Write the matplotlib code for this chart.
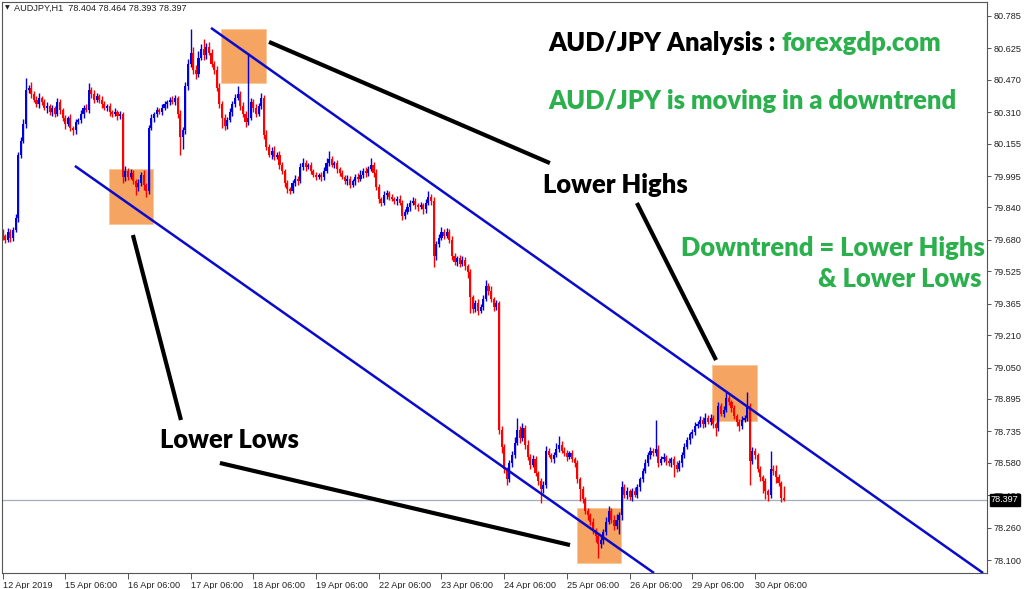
import matplotlib
matplotlib.use("Agg")
import matplotlib.pyplot as plt
from matplotlib.patches import Rectangle
import numpy as np

# ---------------- data ----------------
first_open = 79.72
closes = [
    79.70, 79.68, 79.72, 79.69, 79.73, 79.79, 80.10, 80.17, 80.25, 80.42,
    80.43, 80.40, 80.37, 80.35, 80.38, 80.36, 80.33, 80.34, 80.31, 80.33,
    80.30, 80.36, 80.32, 80.28, 80.25, 80.28, 80.23, 80.22, 80.26, 80.27,
    80.30, 80.33, 80.32, 80.42, 80.40, 80.37, 80.39, 80.37, 80.35, 80.33,
    80.34, 80.31, 80.30, 80.31, 80.29, 80.30, 79.99, 80.02, 79.99, 80.01,
    79.97, 79.94, 79.96, 80.00, 79.95, 79.92, 80.23, 80.28, 80.30, 80.32,
    80.31, 80.33, 80.35, 80.36, 80.37, 80.36, 80.38, 80.30, 80.19, 80.22,
    80.44, 80.55, 80.60, 80.52, 80.50, 80.58, 80.62, 80.59, 80.63, 80.60,
    80.55, 80.52, 80.43, 80.35, 80.28, 80.24, 80.27, 80.31, 80.35, 80.38,
    80.40, 80.34, 80.30, 80.26, 80.28, 80.36, 80.33, 80.30, 80.34, 80.38,
    80.20, 80.14, 80.10, 80.12, 80.09, 80.10, 80.05, 80.02, 79.96, 79.93,
    79.92, 79.96, 79.98, 79.97, 80.04, 80.06, 80.04, 80.05, 80.02, 80.00,
    79.99, 80.00, 79.99, 80.02, 80.06, 80.08, 80.05, 80.06, 80.03, 80.01,
    79.99, 79.97, 79.98, 79.95, 79.97, 79.99, 79.98, 80.00, 80.02, 80.01,
    80.03, 80.05, 80.01, 79.94, 79.88, 79.86, 79.90, 79.91, 79.89, 79.88,
    79.87, 79.88, 79.86, 79.80, 79.82, 79.84, 79.86, 79.87, 79.85, 79.84,
    79.85, 79.83, 79.86, 79.89, 79.87, 79.60, 79.66, 79.69, 79.72, 79.70,
    79.72, 79.68, 79.60, 79.57, 79.59, 79.56, 79.58, 79.55, 79.52, 79.40,
    79.34, 79.37, 79.33, 79.35, 79.39, 79.45, 79.43, 79.39, 79.35, 79.37,
    78.74, 78.66, 78.55, 78.50, 78.58, 78.62, 78.68, 78.74, 78.70, 78.75,
    78.67, 78.61, 78.57, 78.60, 78.53, 78.49, 78.45, 78.47, 78.64, 78.62,
    78.60, 78.62, 78.65, 78.67, 78.64, 78.63, 78.61, 78.63, 78.60, 78.58,
    78.50, 78.45, 78.40, 78.34, 78.32, 78.29, 78.25, 78.22, 78.18, 78.20,
    78.24, 78.29, 78.34, 78.30, 78.27, 78.30, 78.32, 78.46, 78.42, 78.44,
    78.41, 78.44, 78.42, 78.46, 78.50, 78.54, 78.58, 78.62, 78.64, 78.63,
    78.65, 78.58, 78.60, 78.61, 78.59, 78.58, 78.60, 78.57, 78.55, 78.58,
    78.62, 78.66, 78.69, 78.72, 78.73, 78.76, 78.77, 78.79, 78.77, 78.80,
    78.78, 78.80, 78.77, 78.75, 78.86, 78.82, 78.84, 78.90, 78.88, 78.85,
    78.81, 78.78, 78.76, 78.79, 78.80, 78.86, 78.59, 78.64, 78.62, 78.55,
    78.51, 78.49, 78.44, 78.42, 78.55, 78.54, 78.51, 78.48, 78.404, 78.397,
]
# upper / lower wick lengths in points (0.001)
upper_wick = [
    15, 10, 20, 12, 15, 20, 15, 20, 25, 60, 15, 30, 15, 20, 25, 10, 15, 20, 10, 15,
    10, 20, 15, 10, 15, 10, 20, 10, 15, 10, 20, 15, 20, 35, 15, 20, 15, 10, 20, 15,
    10, 15, 10, 20, 10, 15, 10, 25, 15, 20, 15, 10, 20, 15, 25, 10, 15, 20, 10, 15,
    10, 20, 15, 10, 15, 20, 15, 10, 20, 15, 20, 25, 120, 30, 25, 30, 25, 50, 20, 25,
    20, 15, 20, 25, 15, 20, 15, 20, 15, 20, 40, 15, 20, 15, 320, 20, 15, 20, 15, 25,
    15, 20, 15, 20, 25, 15, 20, 15, 10, 15, 10, 15, 20, 15, 20, 25, 15, 10, 15, 10,
    15, 10, 15, 20, 25, 40, 15, 10, 15, 10, 15, 10, 20, 15, 10, 15, 20, 25, 15, 20,
    15, 35, 15, 20, 15, 10, 20, 15, 10, 15, 10, 15, 20, 15, 10, 20, 15, 20, 15, 10,
    15, 10, 20, 30, 15, 20, 15, 20, 25, 15, 20, 15, 20, 15, 10, 15, 20, 15, 10, 15,
    10, 15, 20, 15, 20, 30, 15, 20, 10, 15, 10, 20, 15, 10, 15, 20, 25, 60, 20, 25,
    15, 20, 15, 20, 15, 10, 15, 20, 25, 15, 10, 15, 30, 40, 15, 20, 15, 10, 15, 10,
    15, 10, 15, 10, 15, 10, 15, 10, 15, 20, 15, 20, 25, 15, 20, 25, 15, 30, 15, 20,
    10, 15, 20, 15, 10, 15, 20, 15, 20, 15, 140, 20, 15, 20, 10, 15, 10, 15, 20, 15,
    15, 20, 15, 10, 15, 20, 15, 20, 15, 25, 15, 20, 15, 10, 20, 15, 20, 30, 15, 10,
    15, 10, 15, 20, 15, 70, 15, 20, 15, 10, 15, 10, 15, 10, 90, 20, 30, 15, 10, 60,
]
lower_wick = [
    20, 15, 10, 20, 15, 10, 20, 15, 10, 20, 15, 20, 10, 15, 20, 15, 10, 25, 15, 20,
    15, 10, 20, 15, 25, 10, 15, 20, 15, 10, 15, 20, 10, 15, 20, 15, 10, 15, 20, 10,
    15, 20, 15, 10, 20, 15, 30, 20, 15, 10, 15, 40, 20, 15, 25, 30, 15, 10, 20, 15,
    10, 15, 10, 20, 15, 10, 15, 20, 90, 60, 15, 20, 15, 20, 25, 15, 10, 20, 15, 10,
    15, 20, 15, 20, 50, 20, 15, 10, 20, 15, 10, 20, 15, 25, 15, 10, 20, 15, 10, 15,
    20, 15, 10, 20, 15, 10, 20, 15, 20, 20, 15, 10, 15, 20, 10, 15, 20, 10, 15, 10,
    15, 10, 20, 15, 10, 15, 10, 15, 20, 15, 10, 15, 20, 15, 10, 20, 15, 10, 15, 20,
    15, 10, 20, 15, 20, 15, 10, 20, 15, 10, 15, 20, 10, 20, 15, 10, 15, 10, 20, 15,
    10, 20, 15, 10, 20, 55, 20, 15, 10, 15, 10, 15, 20, 15, 20, 15, 10, 20, 30, 80,
    20, 15, 20, 10, 15, 10, 20, 15, 20, 15, 20, 30, 20, 30, 15, 20, 15, 10, 20, 15,
    20, 15, 20, 10, 15, 20, 70, 20, 15, 10, 15, 20, 10, 15, 10, 15, 20, 10, 15, 20,
    20, 60, 20, 15, 20, 15, 20, 30, 70, 20, 20, 15, 10, 15, 20, 15, 70, 20, 15, 20,
    15, 20, 10, 15, 20, 15, 10, 15, 20, 15, 15, 20, 10, 15, 20, 15, 20, 60, 15, 10,
    20, 15, 10, 15, 20, 15, 10, 15, 20, 15, 10, 15, 20, 40, 15, 10, 15, 10, 15, 20,
    15, 20, 25, 15, 10, 15, 120, 15, 20, 15, 20, 60, 40, 30, 15, 20, 30, 15, 20, 4,
]

x_tick_bars = [0, 24, 48, 72, 96, 120, 144, 168, 192, 216, 240, 264, 288]
x_tick_labels = ["12 Apr 2019", "15 Apr 06:00", "16 Apr 06:00", "17 Apr 06:00",
                 "18 Apr 06:00", "19 Apr 06:00", "22 Apr 06:00", "23 Apr 06:00",
                 "24 Apr 06:00", "25 Apr 06:00", "26 Apr 06:00", "29 Apr 06:00",
                 "30 Apr 06:00"]
y_tick_labels = ["80.785", "80.625", "80.470", "80.310", "80.155", "79.995",
                 "79.840", "79.680", "79.525", "79.365", "79.210", "79.050",
                 "78.895", "78.735", "78.580", "78.420", "78.260", "78.100"]
last_price = 78.397

# channel lines (bar, price)
upper_channel = [(79.8, 80.726), (375.3, 78.036)]
lower_channel = [(27.7, 80.045), (249.35, 78.036)]
# highlight boxes (bar0, bar1, price_low, price_high)
boxes = [(83.6, 100.85, 80.454, 80.721),
         (40.75, 57.6, 79.758, 80.030),
         (219.9, 236.7, 78.085, 78.357),
         (271.55, 288.8, 78.786, 79.062)]
# pointer lines (bar, price)
pointers = [[(102.0, 80.657), (209.5, 80.059)],
            [(242.8, 79.862), (273.1, 79.087)],
            [(49.9, 79.704), (68.3, 78.791)],
            [(83.2, 78.579), (217.2, 78.174)]]

# ---------------- figure ----------------
W, H = 1024, 589
fig = plt.figure(figsize=(W / 100, H / 100), dpi=100)
fig.patch.set_facecolor("white")
ax = fig.add_axes([2 / W, (H - 573) / H, 985 / W, 571 / H])
ax.set_facecolor("white")
ax.set_xlim(-0.2, 376.8)
ax.set_ylim(78.036, 80.854)

c = np.array(closes)
o = np.concatenate([[first_open], c[:-1]])
hi = np.maximum(o, c) + np.array(upper_wick) / 1000.0
lo = np.minimum(o, c) - np.array(lower_wick) / 1000.0
idx = np.arange(len(c))
bull = c >= o
BLUE = "#0000E0"
RED = "#FF0000"
cols = np.where(bull, BLUE, RED)

ax.vlines(idx, lo, hi, colors=cols, linewidth=1.0, zorder=2)
body_bot = np.minimum(o, c)
body_h = np.maximum(np.abs(c - o), 0.004)
ax.bar(idx, body_h, bottom=body_bot, width=0.8, color=cols, linewidth=0, zorder=2)

for b0, b1, p0, p1 in boxes:
    ax.add_patch(Rectangle((b0, p0), b1 - b0, p1 - p0, facecolor="#F5A462",
                           edgecolor="#F8C89A", linewidth=0.6, zorder=1))

for line in (upper_channel, lower_channel):
    xs, ys = zip(*line)
    ax.plot(xs, ys, color="#0A0ACD", linewidth=1.8, zorder=3, solid_capstyle="butt")

for line in pointers:
    xs, ys = zip(*line)
    ax.plot(xs, ys, color="black", linewidth=3.0, zorder=3, solid_capstyle="butt")

ax.axhline(last_price, color="#A3AEBE", linewidth=0.9, zorder=1.5)

# axes styling
for s in ("left", "top", "right", "bottom"):
    ax.spines[s].set_color("#555555")
    ax.spines[s].set_linewidth(0.8)

ax.yaxis.tick_right()
ax.set_yticks([float(v) for v in y_tick_labels])
ax.set_yticklabels(y_tick_labels)
ax.set_xticks(x_tick_bars)
ax.set_xticklabels(x_tick_labels)
ax.tick_params(axis="y", direction="out", length=3, width=0.7, colors="#555555",
               labelcolor="#222222", labelsize=6.6, pad=2)
ax.tick_params(axis="x", direction="out", length=4, width=0.7, colors="#555555",
               labelcolor="#222222", labelsize=6.6, pad=1.5)
for lab in ax.get_xticklabels():
    lab.set_horizontalalignment("left")
    lab.set_fontfamily("Liberation Sans")
for lab in ax.get_yticklabels():
    lab.set_fontfamily("Liberation Sans")

# current price tag
ax.text(1.004, last_price, "78.397", transform=ax.get_yaxis_transform(),
        ha="left", va="center", fontsize=6.6, color="white", family="Liberation Sans",
        bbox=dict(boxstyle="square,pad=0.15", facecolor="black", edgecolor="black"),
        zorder=6, clip_on=False)

# header
fig.text(5 / W, 1 - 8 / H, "\u25BC", fontsize=4.5, color="#222222", va="center",
         family="DejaVu Sans")
fig.text(14 / W, 1 - 8 / H, "AUDJPY,H1  78.404 78.464 78.393 78.397", fontsize=6.6,
         color="#222222", va="center", family="Liberation Sans")

# annotations
GREEN = "#2BB04D"
FONT = dict(family=["Lato", "DejaVu Sans"], weight="heavy", fontsize=18.4)

def ftxt(x, y, s, color, ha="left"):
    return fig.text(x / W, 1 - y / H, s, color=color, ha=ha, va="center", **FONT)

t1 = ftxt(548, 43, "AUD/JPY Analysis : ", "black")
fig.canvas.draw()
bb = t1.get_window_extent()
fig.text(bb.x1 / W, 1 - 43 / H, "forexgdp.com", color=GREEN, ha="left", va="center", **FONT)
ftxt(548, 101, "AUD/JPY is moving in a downtrend", GREEN)
ftxt(543, 185, "Lower Highs", "black")
ftxt(985, 248, "Downtrend = Lower Highs", GREEN, ha="right")
ftxt(982, 279, "& Lower Lows", GREEN, ha="right")
ftxt(160, 440, "Lower Lows", "black")

fig.savefig("out.png", dpi=100, facecolor="white")
